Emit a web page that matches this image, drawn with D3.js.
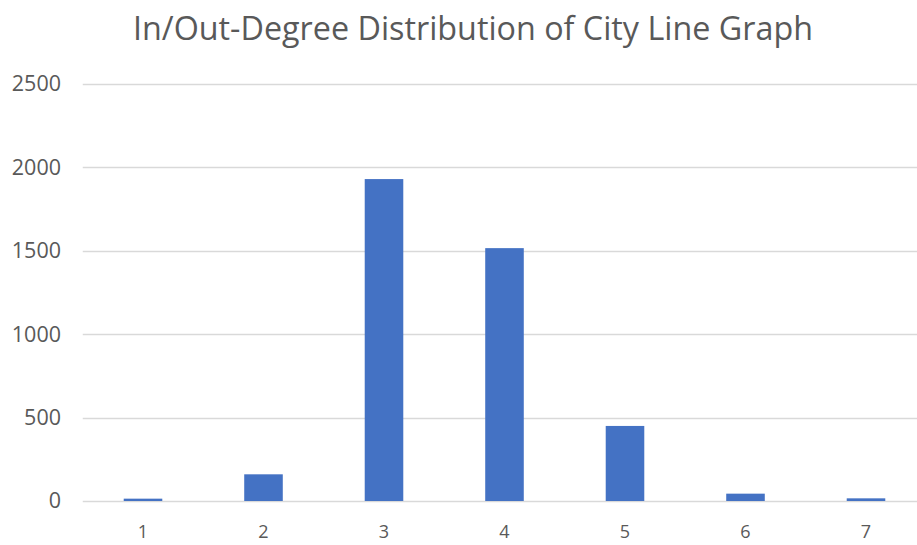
<!DOCTYPE html>
<html>
<head>
<meta charset="utf-8">
<script src="https://cdn.jsdelivr.net/npm/d3@7"></script>
<style>
  html, body { margin: 0; padding: 0; background: #fff; }
  svg { display: block; }
</style>
</head>
<body>
<script>
// Degree values and how many nodes have each
const degrees = ["1", "2", "3", "4", "5", "6", "7"];
const nodeCounts = [14, 160, 1930, 1516, 450, 44, 16];
const yTicks = [0, 500, 1000, 1500, 2000, 2500];
const chartTitle = "In/Out-Degree Distribution of City Line Graph";

const W = 917, H = 545;
const FONT = "'Open Sans', 'Noto Sans', sans-serif";
const TEXT_COLOR = "#595959";
const GRID_COLOR = "#d9d9d9";
const BAR_COLOR = "#4472C4";

const svg = d3.select("body").append("svg")
  .attr("width", W).attr("height", H)
  .attr("viewBox", `0 0 ${W} ${H}`);

const x = d3.scaleBand()
  .domain(degrees)
  .range([82.75, 926.25])
  .paddingInner(0.68)
  .paddingOuter(0.34);

const y = d3.scaleLinear()
  .domain([0, 2500])
  .range([501, 84]);

// Horizontal gridlines (the zero line doubles as the category axis)
svg.append("g")
  .selectAll("line")
  .data(yTicks)
  .join("line")
  .attr("x1", x.range()[0])
  .attr("x2", x.range()[1])
  .attr("y1", d => Math.round(y(d)) + 0.5)
  .attr("y2", d => Math.round(y(d)) + 0.5)
  .attr("stroke", GRID_COLOR)
  .attr("stroke-width", 1.5);

// Value axis labels
const yAxis = d3.axisLeft(y).tickValues(yTicks).tickFormat(d3.format("d"))
  .tickSize(0).tickPadding(0);
const gy = svg.append("g")
  .attr("transform", "translate(61,0)")
  .call(yAxis);
gy.select(".domain").remove();
gy.selectAll("text")
  .attr("fill", TEXT_COLOR)
  .attr("font-family", FONT)
  .attr("font-size", 21.5);

// Category axis labels
const xAxis = d3.axisBottom(x).tickSize(0).tickPadding(0);
const gx = svg.append("g")
  .attr("transform", "translate(0,525.5)")
  .call(xAxis);
gx.select(".domain").remove();
gx.selectAll("text")
  .attr("fill", TEXT_COLOR)
  .attr("dy", "0.71em")
  .attr("font-family", FONT)
  .attr("font-size", 18);

// Bars
svg.append("g")
  .selectAll("rect")
  .data(degrees.map((d, i) => ({ d, v: nodeCounts[i] })))
  .join("rect")
  .attr("x", r => x(r.d))
  .attr("width", x.bandwidth())
  .attr("y", r => y(r.v))
  .attr("height", r => y(0) - y(r.v))
  .attr("fill", BAR_COLOR);

// Title, sized to span its measured width
const title = svg.append("text")
  .attr("x", 473)
  .attr("y", 40)
  .attr("text-anchor", "middle")
  .attr("fill", TEXT_COLOR)
  .style("font-family", FONT)
  .style("font-size", "28px")
  .text(chartTitle);
const tw = title.node().getComputedTextLength();
title.style("font-size", (28 * 680 / tw).toFixed(2) + "px");
</script>
</body>
</html>
